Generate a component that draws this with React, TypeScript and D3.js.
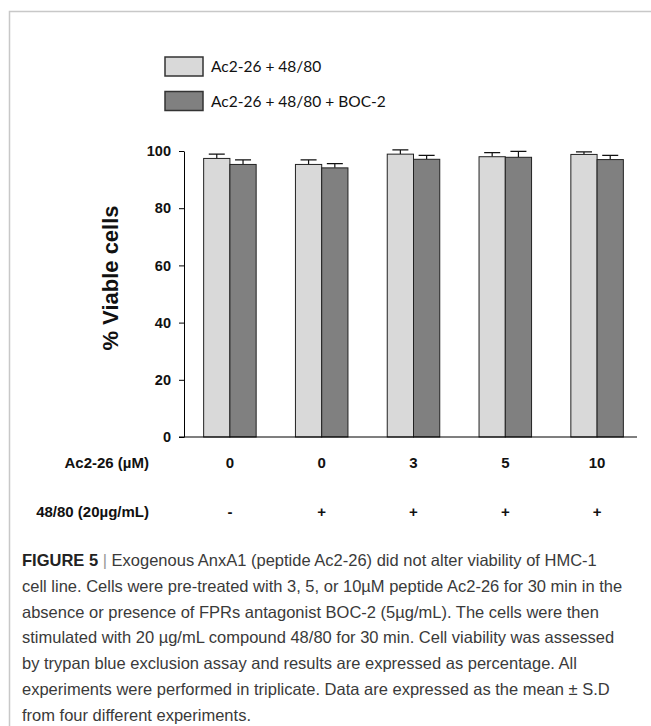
import React, { useEffect, useRef } from 'react';
import * as d3 from 'd3';

const doses = ['0', '0', '3', '5', '10'];
const compound4880 = ['-', '+', '+', '+', '+'];
const seriesNames = ['Ac2-26 + 48/80', 'Ac2-26 + 48/80 + BOC-2'];
const seriesColors = ['#d9d9d9', '#808080'];
const meansNoBoc = [97.4, 95.3, 98.9, 98.0, 98.8];
const sdNoBoc = [1.5, 1.6, 1.5, 1.4, 0.9];
const meansBoc = [95.3, 94.1, 97.1, 97.8, 97.0];
const sdBoc = [1.6, 1.5, 1.4, 2.1, 1.5];
const yTicks = [0, 20, 40, 60, 80, 100];

const captionLines = [
  'cell line. Cells were pre-treated with 3, 5, or 10\u00b5M peptide Ac2-26 for 30 min in the',
  'absence or presence of FPRs antagonist BOC-2 (5\u00b5g/mL). The cells were then',
  'stimulated with 20 \u00b5g/mL compound 48/80 for 30 min. Cell viability was assessed',
  'by trypan blue exclusion assay and results are expressed as percentage. All',
  'experiments were performed in triplicate. Data are expressed as the mean \u00b1 S.D',
  'from four different experiments.',
];

const App: React.FC = () => {
  const ref = useRef<SVGSVGElement>(null);

  useEffect(() => {
    if (!ref.current) return;
    const svg = d3.select(ref.current);
    svg.selectAll('*').remove();

    const W = 651, H = 726;
    const axisFont = 'Liberation Sans, Arial, sans-serif';

    svg.append('rect').attr('width', W).attr('height', H).attr('fill', '#fff');

    // frame (top + left border of the figure panel)
    svg.append('path')
      .attr('d', `M9.5,${H} V11.5 H${W}`)
      .attr('fill', 'none')
      .attr('stroke', '#c8c8c8')
      .attr('stroke-width', 1.5);

    const x = d3.scaleBand<number>()
      .domain(d3.range(doses.length))
      .range([184, 643])
      .paddingInner(0.428)
      .paddingOuter(0.214);
    const xs = d3.scaleBand<number>().domain([0, 1]).range([0, x.bandwidth()]);
    const y = d3.scaleLinear().domain([0, 100]).range([437, 151]);

    // legend
    const legend = svg.append('g').attr('transform', 'translate(165,57)');
    seriesNames.forEach((name, i) => {
      const g = legend.append('g').attr('transform', `translate(0,${i * 34.5})`);
      g.append('rect')
        .attr('width', 38).attr('height', 19)
        .attr('fill', seriesColors[i])
        .attr('stroke', '#333').attr('stroke-width', 1.5);
      g.append('text')
        .attr('x', 46).attr('y', 10)
        .attr('dy', '0.35em')
        .style('font-family', 'Lato, Open Sans, sans-serif')
        .style('font-size', '15.5px')
        .style('fill', '#111')
        .text(name);
    });

    // y axis
    const yAxis = svg.append('g')
      .attr('transform', 'translate(184,0)')
      .call(d3.axisLeft(y).tickValues(yTicks).tickSize(5).tickSizeOuter(0).tickPadding(8));
    yAxis.selectAll('text')
      .style('font-family', axisFont)
      .style('font-size', '14.5px')
      .style('font-weight', 'bold')
      .style('fill', '#111');
    yAxis.selectAll('line,path').attr('stroke', '#000');

    svg.append('text')
      .attr('transform', 'translate(118,278) rotate(-90)')
      .attr('text-anchor', 'middle')
      .style('font-family', axisFont)
      .style('font-size', '22px')
      .style('font-weight', 'bold')
      .style('fill', '#111')
      .text('% Viable cells');

    // bars
    const series = [
      { means: meansNoBoc, sd: sdNoBoc },
      { means: meansBoc, sd: sdBoc },
    ];
    series.forEach((s, si) => {
      const g = svg.append('g');
      const bx = (i: number) => (x(i) as number) + (xs(si) as number);
      const bw = xs.bandwidth();

      // error bars (upper only)
      g.selectAll('.err')
        .data(doses.map((_, i) => i))
        .enter().append('path')
        .attr('d', (i) => {
          const cx = bx(i) + bw / 2;
          const top = y(s.means[i] + s.sd[i]);
          return `M${cx},${y(s.means[i])} V${top} M${cx - 8},${top} H${cx + 8}`;
        })
        .attr('fill', 'none')
        .attr('stroke', '#111')
        .attr('stroke-width', 1.2);

      g.selectAll('.bar')
        .data(doses.map((_, i) => i))
        .enter().append('rect')
        .attr('x', (i) => bx(i))
        .attr('y', (i) => y(s.means[i]))
        .attr('width', bw)
        .attr('height', (i) => y(0) - y(s.means[i]))
        .attr('fill', seriesColors[si])
        .attr('stroke', '#222')
        .attr('stroke-width', 1);
    });

    // x axis line
    svg.append('line')
      .attr('x1', 179).attr('x2', 637)
      .attr('y1', y(0)).attr('y2', y(0))
      .attr('stroke', '#000').attr('stroke-width', 1.2);

    // treatment rows
    const rows = [
      { label: 'Ac2-26 (\u00b5M)', vals: doses, yPos: 463 },
      { label: '48/80 (20\u00b5g/mL)', vals: compound4880, yPos: 512 },
    ];
    rows.forEach((r) => {
      svg.append('text')
        .attr('x', 149).attr('y', r.yPos)
        .attr('dy', '0.35em')
        .attr('text-anchor', 'end')
        .style('font-family', axisFont)
        .style('font-size', '15px')
        .style('font-weight', 'bold')
        .style('fill', '#111')
        .text(r.label);
      svg.selectAll(null)
        .data(r.vals)
        .enter().append('text')
        .attr('x', (_, i) => (x(i) as number) + x.bandwidth() / 2)
        .attr('y', r.yPos)
        .attr('dy', '0.35em')
        .attr('text-anchor', 'middle')
        .style('font-family', axisFont)
        .style('font-size', '15px')
        .style('font-weight', 'bold')
        .style('fill', '#111')
        .text((d) => d);
    });

    // caption
    const cap = svg.append('g')
      .style('font-family', 'Liberation Sans, Arial, sans-serif')
      .style('font-size', '16.5px')
      .style('fill', '#3a3a3a');
    const first = cap.append('text').attr('x', 22).attr('y', 566);
    first.append('tspan').style('font-weight', 'bold').style('fill', '#222').text('FIGURE 5');
    first.append('tspan').style('fill', '#999').text(' | ');
    first.append('tspan').text('Exogenous AnxA1 (peptide Ac2-26) did not alter viability of HMC-1');
    captionLines.forEach((line, i) => {
      cap.append('text')
        .attr('x', 22)
        .attr('y', 566 + (i + 1) * 25.8)
        .text(line);
    });
  }, []);

  return (
    <svg
      ref={ref}
      width={651}
      height={726}
      style={{ position: 'absolute', left: 0, top: 0, display: 'block' }}
    />
  );
};

export default App;
